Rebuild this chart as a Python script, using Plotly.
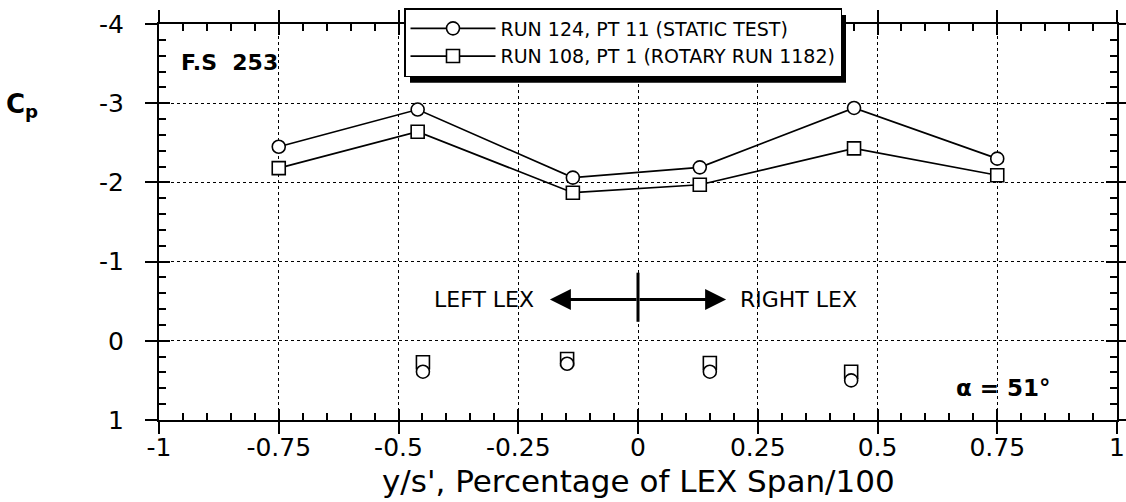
import plotly.graph_objects as go

# Upper-surface pressure taps (connected by lines)
span_upper = [-0.75, -0.46, -0.136, 0.129, 0.451, 0.75]
cp_static_upper = [-2.45, -2.92, -2.06, -2.19, -2.94, -2.30]
cp_rotary_upper = [-2.18, -2.64, -1.87, -1.97, -2.43, -2.09]

# Lower-surface pressure taps (symbols only)
span_lower = [-0.449, -0.148, 0.150, 0.445]
cp_static_lower = [0.39, 0.29, 0.39, 0.50]
cp_rotary_lower = [0.27, 0.23, 0.28, 0.39]

x_tickvals = [-1, -0.75, -0.5, -0.25, 0, 0.25, 0.5, 0.75, 1]
x_ticktext = ["-1", "-0.75", "-0.5", "-0.25", "0", "0.25", "0.5", "0.75", "1"]
y_tickvals = [-4, -3, -2, -1, 0, 1]
y_ticktext = ["-4", "-3", "-2", "-1", "0", "1"]

static_name = "RUN 124, PT 11 (STATIC TEST)"
rotary_name = "RUN 108, PT 1 (ROTARY RUN 1182)"

# Centre-line marker and LEX direction arrows
arrow_cp = -0.52
arrow_tip = 0.184
divider_cp = [-0.86, -0.24]

W, H = 1126, 502
ML, MR, MT, MB = 159, 9, 23, 82
PW, PH = W - ML - MR, H - MT - MB


def px_x(px):
    return (px - ML) / PW


def px_y(py):
    return (H - MB - py) / PH


FONT = "DejaVu Sans"
marker_common = dict(size=13, color="white", line=dict(color="black", width=1.6))

fig = go.Figure()
fig.add_trace(go.Scatter(
    x=span_upper, y=cp_static_upper, mode="lines+markers", name=static_name,
    line=dict(color="black", width=1.7),
    marker=dict(symbol="circle", **marker_common),
))
fig.add_trace(go.Scatter(
    x=span_upper, y=cp_rotary_upper, mode="lines+markers", name=rotary_name,
    line=dict(color="black", width=1.7),
    marker=dict(symbol="square", **marker_common),
))
fig.add_trace(go.Scatter(
    x=span_lower, y=cp_rotary_lower, mode="markers", showlegend=False,
    marker=dict(symbol="square", **marker_common),
))
fig.add_trace(go.Scatter(
    x=span_lower, y=cp_static_lower, mode="markers", showlegend=False,
    marker=dict(symbol="circle", **marker_common),
))
# helper trace so the overlay axes (outer halves of major ticks) are drawn
fig.add_trace(go.Scatter(
    x=[x_tickvals[0]], y=[y_tickvals[0]], xaxis="x2", yaxis="y2", mode="markers",
    marker=dict(opacity=0), showlegend=False, hoverinfo="skip",
))

# main axes: frame, grid, labels, inner halves of the major ticks, minor ticks
axis_common = dict(
    showline=True, linecolor="black", linewidth=2, mirror="allticks",
    ticks="inside", ticklen=11, tickwidth=2, tickcolor="black",
    showgrid=True, gridcolor="black", gridwidth=1.3, griddash="dot",
    zeroline=False, automargin=False,
    tickfont=dict(family=FONT, size=25, color="black"),
)
# overlay axes: outer halves of the major ticks
overlay_common = dict(
    ticks="outside", ticklen=13, tickwidth=2, tickcolor="black",
    mirror="allticks", showticklabels=False, showgrid=False,
    showline=False, zeroline=False, automargin=False,
)

fig.update_layout(
    width=W, height=H,
    margin=dict(l=ML, r=MR, t=MT, b=MB),
    paper_bgcolor="white", plot_bgcolor="white",
    font=dict(family=FONT, color="black"),
    showlegend=True,
    xaxis=dict(
        range=[-1, 1], tickvals=x_tickvals, ticktext=x_ticktext,
        ticklabelstandoff=4,
        minor=dict(dtick=0.05, ticks="inside", ticklen=7, tickwidth=1.5,
                   tickcolor="black", showgrid=False),
        **axis_common,
    ),
    yaxis=dict(
        range=[1, -4], tickvals=y_tickvals, ticktext=y_ticktext,
        ticklabelstandoff=28,
        minor=dict(dtick=0.2, ticks="inside", ticklen=7, tickwidth=1.5,
                   tickcolor="black", showgrid=False),
        **axis_common,
    ),
    xaxis2=dict(overlaying="x", anchor="y", range=[-1, 1], tickvals=x_tickvals,
                **overlay_common),
    yaxis2=dict(overlaying="y", anchor="x", range=[1, -4], tickvals=y_tickvals,
                **overlay_common),
    legend=dict(
        x=px_x(404), y=px_y(8), xanchor="left", yanchor="top",
        bgcolor="white", bordercolor="black", borderwidth=1.5,
        font=dict(family=FONT, size=19, color="black"),
        itemwidth=85, tracegroupgap=0,
    ),
)

# legend drop shadow
fig.add_shape(type="rect", xref="paper", yref="paper",
              x0=px_x(410), x1=px_x(846), y0=px_y(82), y1=px_y(14),
              fillcolor="black", line=dict(width=0), layer="above")

# centre divider
fig.add_shape(type="line", xref="x", yref="y", x0=0, x1=0,
              y0=divider_cp[0], y1=divider_cp[1],
              line=dict(color="black", width=3))

for tip in (-arrow_tip, arrow_tip):
    fig.add_annotation(x=tip, y=arrow_cp, ax=0, ay=arrow_cp, axref="x", ayref="y",
                       xref="x", yref="y", text="", showarrow=True,
                       arrowhead=2, arrowsize=1.4, arrowwidth=3, arrowcolor="black")

fig.add_annotation(x=-0.213, y=arrow_cp, xref="x", yref="y", text="LEFT LEX",
                   showarrow=False, xanchor="right", yanchor="middle",
                   font=dict(family=FONT, size=22, color="black"))
fig.add_annotation(x=0.209, y=arrow_cp, xref="x", yref="y", text="RIGHT LEX",
                   showarrow=False, xanchor="left", yanchor="middle",
                   font=dict(family=FONT, size=22, color="black"))

fig.add_annotation(x=-0.958, y=-3.51, xref="x", yref="y", text="<b>F.S\u00a0\u00a0253</b>",
                   showarrow=False, xanchor="left", yanchor="middle",
                   font=dict(family=FONT, size=22, color="black"))
fig.add_annotation(x=0.66, y=0.59, xref="x", yref="y", text="<b>\u03b1 = 51\u00b0</b>",
                   showarrow=False, xanchor="left", yanchor="middle",
                   font=dict(family=FONT, size=23, color="black"))

fig.add_annotation(x=px_x(4), y=-2.97, xref="paper", yref="y",
                   text="<b>C<sub>p</sub></b>", showarrow=False,
                   xanchor="left", yanchor="middle",
                   font=dict(family=FONT, size=26, color="black"))

fig.add_annotation(x=0.5, y=px_y(481), xref="paper", yref="paper",
                   text="y/s', Percentage of LEX Span/100", showarrow=False,
                   xanchor="center", yanchor="middle",
                   font=dict(family=FONT, size=31, color="black"))

fig.write_html("out.html")
